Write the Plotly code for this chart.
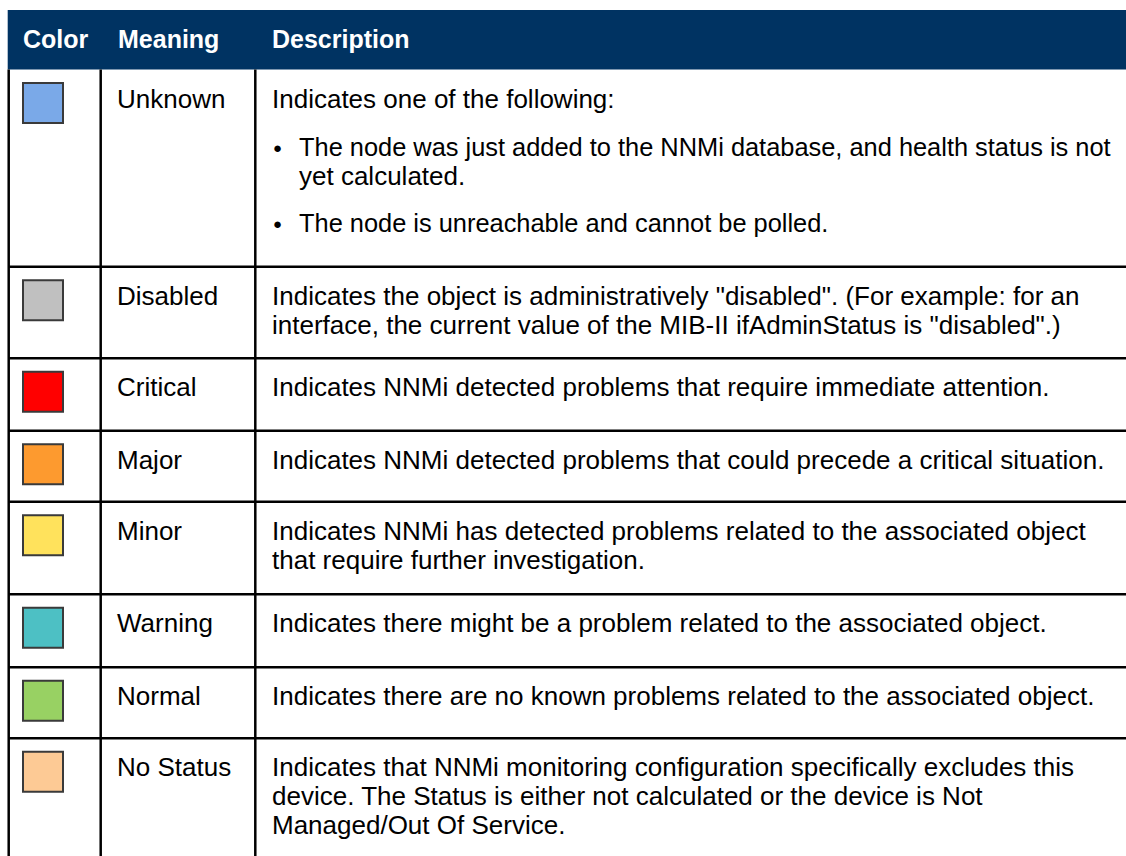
import plotly.graph_objects as go

# ---------------- data ----------------
title_text = "Status Colors"
header_labels = ["Color", "Meaning", "Description"]
meanings = ["Unknown", "Disabled", "Critical", "Major", "Minor", "Warning", "Normal", "No Status"]
swatch_colors = ["#7aa9e8", "#c0c0c0", "#ff0000", "#fd9a2f", "#ffe25c", "#4dc0c4", "#98d163", "#fdca95"]
descriptions = [
    [("", "Indicates one of the following:"),
     ("bullet", "The node was just added to the NNMi database, and health status is not"),
     ("cont", "yet calculated."),
     ("bullet", "The node is unreachable and cannot be polled.")],
    [("", 'Indicates the object is administratively "disabled". (For example: for an'),
     ("", 'interface, the current value of the MIB-II ifAdminStatus is "disabled".)')],
    [("", "Indicates NNMi detected problems that require immediate attention.")],
    [("", "Indicates NNMi detected problems that could precede a critical situation.")],
    [("", "Indicates NNMi has detected problems related to the associated object"),
     ("", "that require further investigation.")],
    [("", "Indicates there might be a problem related to the associated object.")],
    [("", "Indicates there are no known problems related to the associated object.")],
    [("", "Indicates that NNMi monitoring configuration specifically excludes this"),
     ("", "device. The Status is either not calculated or the device is Not"),
     ("", "Managed/Out Of Service.")],
]

# ---------------- layout (pixels) ----------------
W, H = 1126, 856
FONT = "Liberation Sans, Arial, sans-serif"
FS = 26
header_top, header_bottom = 10, 69.5
row_edges = [69.5, 266.7, 358.3, 430.7, 501.7, 594.3, 667.3, 738.3, 900]
col_lines = [8.7, 100.7, 255.3]
header_x = [21, 116, 270]
meaning_x = 115
desc_x = 270
bullet_x = 271
bullet_text_x = 297
line_gap = 29
unknown_offsets = [0, 48, 77, 124]
HEADER_BG = "#003362"
LINE_W = 2.5

fig = go.Figure()
shapes = []
annotations = []

# header band
shapes.append(dict(type="rect", x0=col_lines[0] - 1, x1=W + 5, y0=header_top, y1=header_bottom,
                   fillcolor=HEADER_BG, line=dict(width=0), layer="below"))
for lbl, hx in zip(header_labels, header_x):
    annotations.append(dict(x=hx, y=(header_top + header_bottom) / 2 - 1, text="<b>%s</b>" % lbl,
                            showarrow=False, xanchor="left", yanchor="middle",
                            font=dict(family=FONT, size=25, color="white")))

# title (mostly cut off at the top edge)
annotations.append(dict(x=11 / W, y=1 + 9.5 / H, xref="paper", yref="paper",
                        text="<b>%s</b>" % title_text, showarrow=False,
                        xanchor="left", yanchor="middle",
                        font=dict(family=FONT, size=27, color="#222222")))

# vertical grid lines
for cx in col_lines:
    shapes.append(dict(type="line", x0=cx, x1=cx, y0=header_bottom, y1=H + 5,
                       line=dict(color="black", width=LINE_W)))
# horizontal row separators
for ry in row_edges[1:-1]:
    shapes.append(dict(type="line", x0=col_lines[0], x1=W + 5, y0=ry, y1=ry,
                       line=dict(color="black", width=LINE_W)))

# rows
for i, (m, c, desc) in enumerate(zip(meanings, swatch_colors, descriptions)):
    top = row_edges[i]
    sw_top = top + 13.5
    shapes.append(dict(type="rect", x0=23, x1=63, y0=sw_top, y1=sw_top + 40,
                       fillcolor=c, line=dict(color="#3a3a3a", width=2)))
    first_mid = top + 29
    annotations.append(dict(x=meaning_x, y=first_mid, text=m, showarrow=False,
                            xanchor="left", yanchor="middle",
                            font=dict(family=FONT, size=FS, color="black")))
    for j, (kind, txt) in enumerate(desc):
        if i == 0:
            y = first_mid + unknown_offsets[j]
        else:
            y = first_mid + j * line_gap
        size = FS
        if kind == "bullet":
            annotations.append(dict(x=bullet_x, y=y + 1, text="\u25CF", showarrow=False,
                                    xanchor="left", yanchor="middle",
                                    font=dict(family=FONT, size=15, color="black")))
            tx = bullet_text_x
            size = FS - 0.6
        elif kind == "cont":
            tx = bullet_text_x
        else:
            tx = desc_x
        annotations.append(dict(x=tx, y=y, text=txt, showarrow=False,
                                xanchor="left", yanchor="middle",
                                font=dict(family=FONT, size=size, color="black")))

fig.update_layout(
    width=W, height=H,
    margin=dict(l=0, r=0, t=0, b=0),
    paper_bgcolor="white", plot_bgcolor="white",
    xaxis=dict(range=[0, W], visible=False, fixedrange=True),
    yaxis=dict(range=[H, 0], visible=False, fixedrange=True),
    shapes=shapes, annotations=annotations,
    showlegend=False,
)

fig.write_html("out.html", config={"displayModeBar": False},
               post_script="document.body.style.margin='0';document.body.style.overflow='hidden';")
